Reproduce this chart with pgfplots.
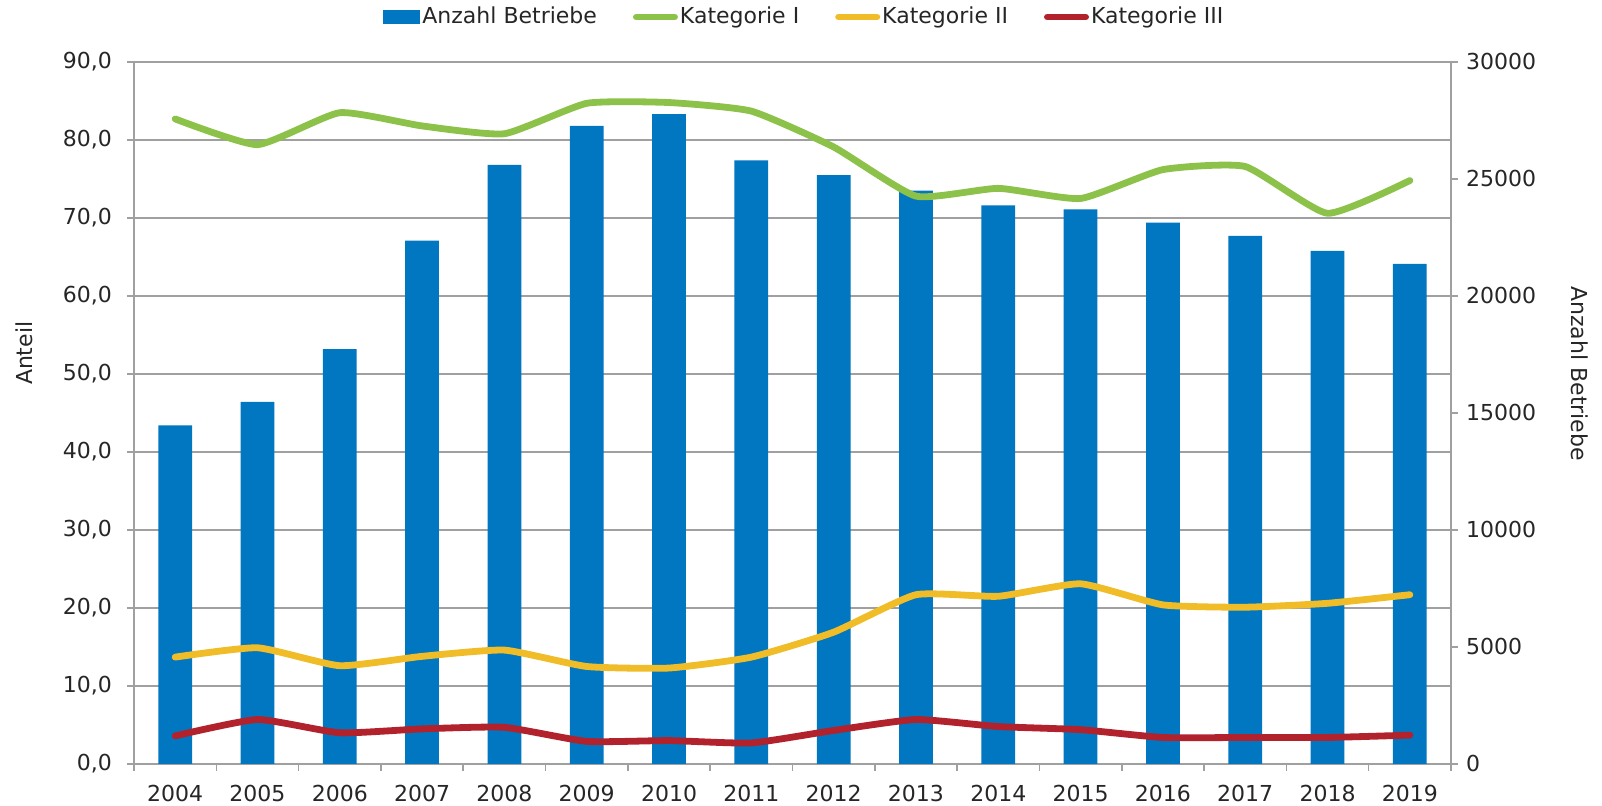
\documentclass[border=0pt]{standalone}
\usepackage{pgfplots}
\pgfplotsset{compat=1.18}
\usepackage{pgfplotstable}
\usepackage{fontspec}
\setmainfont{DejaVu Sans}

\definecolor{barblue}{RGB}{0,119,192}
\definecolor{katgreen}{RGB}{140,194,74}
\definecolor{katyellow}{RGB}{240,188,40}
\definecolor{katred}{RGB}{178,34,44}
\definecolor{axgray}{RGB}{160,160,160}

\pgfplotsset{
  barleg/.style={legend image code/.code={\fill[##1] (0pt,-3.5pt) rectangle (18.5pt,3.5pt);}},
  lineleg/.style={legend image code/.code={\draw[##1] (1.7pt,0pt) -- (20.8pt,0pt);}},
}

% x = Position der Kategorie (2004 = 0)
\pgfplotstableread{
x  jahr  betriebe  k1    k2    k3
0  2004  14470     82.7  13.7  3.6
1  2005  15470     79.4  14.9  5.7
2  2006  17730     83.5  12.6  4.0
3  2007  22370     81.8  13.8  4.5
4  2008  25600     80.8  14.6  4.7
5  2009  27270     84.7  12.5  2.9
6  2010  27770     84.8  12.3  3.0
7  2011  25800     83.7  13.7  2.7
8  2012  25170     79.1  16.9  4.3
9  2013  24500     72.8  21.7  5.7
10 2014  23870     73.8  21.5  4.8
11 2015  23700     72.5  23.1  4.4
12 2016  23130     76.2  20.4  3.4
13 2017  22570     76.6  20.1  3.4
14 2018  21930     70.6  20.6  3.4
15 2019  21370     74.8  21.7  3.7
}\daten

\begin{document}
\begin{tikzpicture}[font=\fontsize{11}{13}\selectfont, text=black!85]
\pgfplotsset{
  gemeinsam/.style={
    scale only axis, width=658.5pt, height=351pt,
    xmin=-0.5, xmax=15.5,
    tick align=outside, major tick length=3.5pt,
    axis line style={axgray, line width=0.8pt},
    every tick/.style={axgray, line width=0.8pt},
    tick label style={font=\fontsize{11}{13}\selectfont,
      /pgf/number format/assume math mode=true},
  },
  kat/.style={line width=3.4pt, smooth, tension=0.3, no markers, line join=round, line cap=round},
}

% linke Achse: Gitter, Jahre, Legende
\begin{axis}[gemeinsam, name=ax,
    ymin=0, ymax=90,
    axis x line*=bottom, axis y line*=left,
    xtick={-0.5,0.5,...,15.5},
    x tick label as interval,
    xticklabels={2004,2005,2006,2007,2008,2009,2010,2011,2012,2013,2014,2015,2016,2017,2018,2019},
    xticklabel style={yshift=-3.5pt},
    ytick={0,10,...,90},
    yticklabel style={xshift=-4pt, /pgf/number format/.cd, fixed, fixed zerofill, precision=1, use comma},
    ymajorgrids, grid style={axgray, line width=0.7pt},
    ylabel={Anteil},
    every axis y label/.style={at={(axis description cs:-0.0835,0.585)}, anchor=center, rotate=90},
    legend columns=4,
    legend style={at={(axis description cs:0.509,1.064)}, anchor=center,
      draw=none, fill=none, font=\fontsize{11}{13}\selectfont,
      nodes={inner sep=1pt},
      /tikz/every even column/.append style={column sep=17pt}},
  ]
\addlegendimage{barleg, fill=barblue, draw=none}
\addlegendentry{Anzahl Betriebe}
\addlegendimage{lineleg, katgreen, line width=3.4pt, line cap=round}
\addlegendentry{Kategorie I}
\addlegendimage{lineleg, katyellow, line width=3.4pt, line cap=round}
\addlegendentry{Kategorie II}
\addlegendimage{lineleg, katred, line width=3.4pt, line cap=round}
\addlegendentry{Kategorie III}
\end{axis}

% rechte Achse: Anzahl Betriebe (Balken)
\begin{axis}[gemeinsam,
    ymin=0, ymax=30000,
    axis y line*=right, axis x line=none,
    ybar, bar width=0.41,
    ytick={0,5000,...,30000},
    scaled y ticks=false,
    yticklabel style={xshift=0.5pt, /pgf/number format/1000 sep={}},
    ylabel={Anzahl Betriebe},
    every axis y label/.style={at={(axis description cs:1.098,0.556)}, anchor=center, rotate=-90},
  ]
\addplot[fill=barblue, draw=none] table[x=x, y=betriebe]{\daten};
\end{axis}

% Anteile der Kategorien (linke Skala)
\begin{axis}[gemeinsam, ymin=0, ymax=90, hide axis]
\addplot[kat, katgreen]  table[x=x, y=k1]{\daten};
\addplot[kat, katyellow] table[x=x, y=k2]{\daten};
\addplot[kat, katred]    table[x=x, y=k3]{\daten};
\end{axis}

\pgfresetboundingbox
\path ([shift={(-67pt,-21pt)}]ax.south west) rectangle ([shift={(75.5pt,31pt)}]ax.north east);
\end{tikzpicture}
\end{document}
